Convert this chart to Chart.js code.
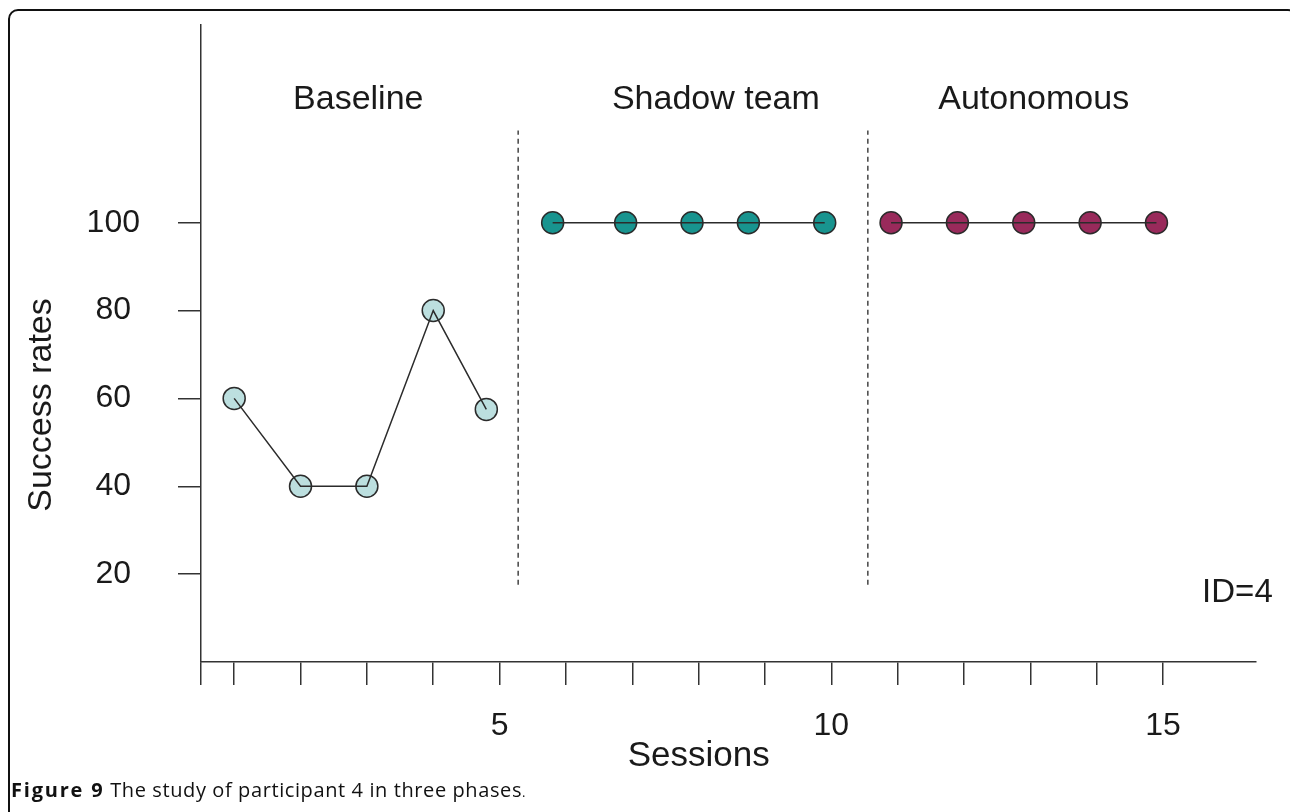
<!DOCTYPE html>
<html lang="en">
<head>
<meta charset="UTF-8">
<title>Figure 9 | participant 4</title>
<script src="https://cdn.jsdelivr.net/npm/chart.js@4.4.1/dist/chart.umd.min.js"></script>
<style>
  html, body { margin: 0; padding: 0; background: #fff; }
  body { width: 1290px; height: 812px; overflow: hidden; position: relative; }
  #frame { position: absolute; left: 8px; top: 9px; width: 1290px; height: 830px;
           border: 2px solid #111; border-radius: 10px; box-sizing: border-box; }
  #chart { position: absolute; left: 0; top: 0; }
  .caption { position: absolute; left: 11px; top: 776px; font-family: "Open Sans", sans-serif;
             font-size: 20px; letter-spacing: 0.6px; color: #111; }
  .caption b { font-weight: 700; letter-spacing: 1.8px; }
  .caption span { font-size: 13px; }
</style>
</head>
<body>
  <div id="frame"></div>
  <canvas id="chart" width="1290" height="812"></canvas>
  <div class="caption"><b>Figure 9</b> The study of participant 4 in three phases<span>.</span></div>

<script>
  // sessions / success rates
  const baseSessions = [1, 2, 3, 4, 4.8];
  const baseRates = [60, 40, 40, 80, 57.5];
  const shadowSessions = [5.8, 6.9, 7.9, 8.75, 9.9];
  const shadowRates = [100, 100, 100, 100, 100];
  const autoSessions = [10.9, 11.9, 12.9, 13.9, 14.9];
  const autoRates = [100, 100, 100, 100, 100];
  const phaseBreaks = [5.28, 10.55];
  const phaseNames = ['Baseline', 'Shadow team', 'Autonomous'];
  const yTicks = [20, 40, 60, 80, 100];
  const xTicks = [0.5, 1, 2, 3, 4, 5, 6, 7, 8, 9, 10, 11, 12, 13, 14, 15];
  const xLabels = [5, 10, 15];

  const FONT = '"Liberation Sans", Arial, sans-serif';
  const INK = '#1a1a1a';
  const AXIS = '#333';

  function pts(xs, ys) {
    return xs.map((x, i) => ({ x: x, y: ys[i] }));
  }

  function pointSet(xs, ys, fill) {
    return {
      data: pts(xs, ys), showLine: false, order: 2,
      pointRadius: 11, pointHoverRadius: 11, pointBorderWidth: 1.5,
      pointBackgroundColor: fill, pointBorderColor: '#2b2b2b'
    };
  }

  function lineSet(xs, ys) {
    return {
      data: pts(xs, ys), showLine: true, order: 1,
      borderColor: '#2b2b2b', borderWidth: 1.5, pointRadius: 0, tension: 0
    };
  }

  function breakSet(x) {
    return {
      data: [{ x: x, y: 17.6 }, { x: x, y: 121 }], showLine: true, order: 1,
      borderColor: '#444', borderWidth: 1.5, borderDash: [5, 4], pointRadius: 0
    };
  }

  // phase names, ID and axis titles drawn through the scales
  const textPlugin = {
    id: 'texts',
    afterDraw(chart) {
      const c = chart.ctx;
      const xs = chart.scales.x, ys = chart.scales.y;
      c.save();
      c.fillStyle = INK;
      c.textAlign = 'center';
      c.textBaseline = 'middle';
      c.font = '34px ' + FONT;
      const centres = [2.87, 8.26, 13.05];
      phaseNames.forEach((name, i) => {
        c.fillText(name, xs.getPixelForValue(centres[i]), ys.getPixelForValue(128));
      });
      c.font = '33px ' + FONT;
      c.fillText('ID=4', xs.getPixelForValue(16.12), ys.getPixelForValue(15.8));
      c.font = '35px ' + FONT;
      c.fillText('Sessions', xs.getPixelForValue(8), 756);
      c.translate(42, ys.getPixelForValue(58.5));
      c.rotate(-Math.PI / 2);
      c.font = '34px ' + FONT;
      c.fillText('Success rates', 0, 0);
      c.restore();
    }
  };

  const ctx = document.getElementById('chart').getContext('2d');
  const chart = new Chart(ctx, {
    type: 'scatter',
    data: {
      datasets: [
        pointSet(baseSessions, baseRates, '#bcdfdf'),
        lineSet(baseSessions, baseRates),
        pointSet(shadowSessions, shadowRates, '#18948f'),
        lineSet(shadowSessions, shadowRates),
        pointSet(autoSessions, autoRates, '#992a5b'),
        lineSet(autoSessions, autoRates),
        breakSet(phaseBreaks[0]),
        breakSet(phaseBreaks[1])
      ]
    },
    options: {
      responsive: false,
      animation: false,
      devicePixelRatio: 1,
      layout: { padding: { top: 25, right: 34, left: 0, bottom: 0 } },
      plugins: { legend: { display: false }, tooltip: { enabled: false } },
      scales: {
        x: {
          type: 'linear', min: 0.5, max: 16.4,
          afterFit(scale) {
            scale.height = 150;
            scale.paddingLeft = 0; scale.paddingRight = 0;
          },
          afterBuildTicks(scale) { scale.ticks = xTicks.map(v => ({ value: v })); },
          grid: { drawOnChartArea: false, tickLength: 23, color: AXIS, lineWidth: 1.5 },
          border: { color: AXIS, width: 1.5 },
          ticks: {
            padding: 22, color: INK, font: { family: FONT, size: 32 },
            autoSkip: false, maxRotation: 0,
            callback: v => xLabels.includes(v) ? String(v) : ''
          }
        },
        y: {
          type: 'linear', min: 0, max: 145,
          afterFit(scale) {
            scale.width = 201;
            scale.paddingTop = 0; scale.paddingBottom = 0;
          },
          afterBuildTicks(scale) { scale.ticks = yTicks.map(v => ({ value: v })); },
          grid: { drawOnChartArea: false, tickLength: 23, color: AXIS, lineWidth: 1.5 },
          border: { color: AXIS, width: 1.5 },
          ticks: {
            padding: 38, crossAlign: 'center', color: INK,
            font: { family: FONT, size: 32 }
          }
        }
      }
    },
    plugins: [textPlugin]
  });
</script>
</body>
</html>
